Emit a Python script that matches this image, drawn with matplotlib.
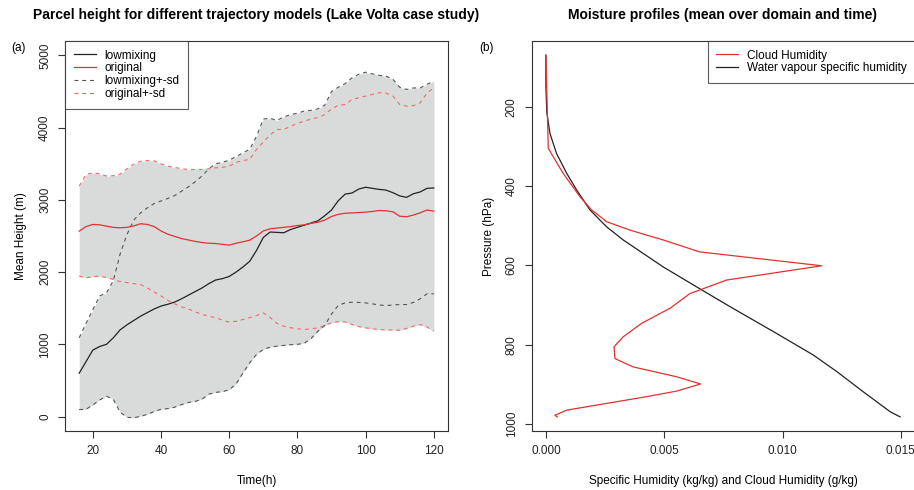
import matplotlib
matplotlib.use("Agg")
import matplotlib.pyplot as plt
import numpy as np

plt.rcParams['font.family'] = ['Liberation Sans', 'DejaVu Sans']

# ---- panel (a): parcel height ----
hours = list(range(16, 121, 2))

lowmixing = [600, 760, 920, 970, 1000, 1090, 1200, 1270, 1330, 1390, 1440, 1490, 1530, 1555,
             1585, 1630, 1680, 1730, 1780, 1840, 1890, 1910, 1940, 2000, 2070, 2150, 2300, 2480,
             2555, 2550, 2545, 2590, 2620, 2650, 2680, 2710, 2780, 2860, 2990, 3080, 3095, 3150,
             3175, 3160, 3145, 3135, 3100, 3055, 3035, 3085, 3110, 3160, 3165]
original = [2567, 2630, 2660, 2655, 2636, 2620, 2613, 2620, 2640, 2670, 2660, 2630, 2570, 2525,
            2495, 2465, 2445, 2425, 2410, 2400, 2396, 2385, 2373, 2400, 2420, 2442, 2500, 2570,
            2600, 2610, 2620, 2630, 2645, 2655, 2675, 2690, 2720, 2770, 2800, 2815, 2820, 2825,
            2830, 2840, 2853, 2850, 2835, 2774, 2766, 2790, 2821, 2860, 2844]
lowmixing_up = [1090, 1290, 1480, 1670, 1713, 1880, 2250, 2520, 2720, 2820, 2890, 2950, 2985, 3020,
                3060, 3120, 3180, 3250, 3330, 3430, 3500, 3520, 3550, 3600, 3650, 3700, 3880, 4120,
                4130, 4100, 4150, 4180, 4200, 4230, 4240, 4260, 4310, 4500, 4560, 4610, 4690, 4740,
                4768, 4745, 4725, 4713, 4670, 4560, 4530, 4550, 4550, 4600, 4644]
lowmixing_lo = [97, 100, 160, 230, 281, 240, 60, -10, -18, 5, 30, 70, 100, 110,
                130, 165, 195, 210, 240, 310, 335, 345, 370, 450, 600, 744, 860, 930,
                960, 975, 985, 995, 1000, 1015, 1080, 1180, 1260, 1420, 1540, 1575, 1583, 1580,
                1574, 1560, 1545, 1537, 1545, 1551, 1551, 1580, 1630, 1700, 1700]
original_up = [3190, 3350, 3375, 3360, 3330, 3335, 3355, 3430, 3495, 3535, 3546, 3540, 3500, 3467,
               3450, 3430, 3421, 3421, 3421, 3430, 3444, 3450, 3467, 3520, 3545, 3560, 3698, 3800,
               3900, 3975, 3975, 4020, 4060, 4090, 4120, 4140, 4180, 4260, 4310, 4320, 4390, 4415,
               4437, 4460, 4483, 4478, 4440, 4321, 4298, 4305, 4344, 4480, 4552]
original_lo = [1943, 1921, 1935, 1943, 1925, 1898, 1870, 1855, 1840, 1828, 1780, 1725, 1670, 1610,
               1560, 1520, 1490, 1450, 1415, 1390, 1370, 1335, 1306, 1320, 1343, 1370, 1400, 1436,
               1370, 1290, 1250, 1230, 1215, 1205, 1215, 1228, 1260, 1298, 1315, 1310, 1274, 1245,
               1228, 1215, 1205, 1200, 1198, 1195, 1220, 1251, 1274, 1240, 1181]

# ---- panel (b): moisture profiles ----
cloud_p = [70, 305, 368, 427, 460, 490, 511, 536, 566, 601, 637, 671, 708, 746, 780, 805,
           835, 856, 881, 899, 917, 931, 965, 978, 982]
cloud_q = [0.0, 0.0001, 0.00073, 0.00144, 0.00193, 0.00257, 0.00355, 0.00496, 0.0065, 0.01166,
           0.00764, 0.00609, 0.00525, 0.00405, 0.00327, 0.00288, 0.00292, 0.00369, 0.00553,
           0.00654, 0.00553, 0.00426, 0.00088, 0.00038, 0.00048]
vap_p = [70, 150, 215, 267, 318, 368, 410, 460, 503, 536, 604, 662, 704, 772, 826,
         868, 919, 969, 982]
vap_q = [0.0, 0.0, 0.00004, 0.00017, 0.00045, 0.00088, 0.0013, 0.00186, 0.00257,
         0.00327, 0.00496, 0.00659, 0.00778, 0.00976, 0.0113, 0.0123, 0.01342, 0.01455, 0.01497]

W, H = 914, 490
fig = plt.figure(figsize=(W / 100, H / 100), dpi=100)

def px_axes(x0, y0, x1, y1):
    return fig.add_axes([x0 / W, 1 - y1 / H, (x1 - x0) / W, (y1 - y0) / H])

edge = '#333333'
fs = 8.5

def style(ax):
    for s in ax.spines.values():
        s.set_color(edge)
        s.set_linewidth(0.8)
    ax.tick_params(direction='out', length=5, width=0.8, color=edge, labelsize=fs,
                   labelcolor='#222222', pad=5)
    for lab in ax.get_yticklabels():
        lab.set_rotation(90)
        lab.set_va('center')

grey_fill = '#d9dbdb'
red = '#e53030'

ax1 = px_axes(65, 41, 448, 431)
ax1.fill_between(hours, lowmixing_lo, lowmixing_up, color=grey_fill, lw=0, zorder=1)
ax1.fill_between(hours, original_lo, original_up, color=grey_fill, lw=0, zorder=1)
dash = (0, (3.5, 3.5))
ax1.plot(hours, lowmixing_up, color='#555555', lw=0.8, ls=dash, zorder=2)
ax1.plot(hours, lowmixing_lo, color='#555555', lw=0.8, ls=dash, zorder=2)
ax1.plot(hours, original_up, color='#ef6a6a', lw=0.8, ls=dash, zorder=2)
ax1.plot(hours, original_lo, color='#ef6a6a', lw=0.8, ls=dash, zorder=2)
ax1.plot(hours, lowmixing, color='#222222', lw=0.9, zorder=3, label='lowmixing')
ax1.plot(hours, original, color=red, lw=0.9, zorder=3, label='original')
# legend proxies
ax1.plot([], [], color='#555555', lw=0.8, ls=dash, label='lowmixing+-sd')
ax1.plot([], [], color='#ef6a6a', lw=0.8, ls=dash, label='original+-sd')
ax1.set_xlim(11.84, 124.16)
ax1.set_ylim(-200, 5200)
ax1.set_xticks([20, 40, 60, 80, 100, 120])
ax1.set_yticks([0, 1000, 2000, 3000, 4000, 5000])
style(ax1)
ax1.set_xlabel('Time(h)', fontsize=fs, labelpad=13)
ax1.set_ylabel('Mean Height (m)', fontsize=fs, labelpad=9)
leg = ax1.legend(loc='upper left', borderaxespad=0, fontsize=fs, fancybox=False,
                 edgecolor=edge, handlelength=1.9, handletextpad=0.7, labelspacing=0.08,
                 borderpad=0.72)
leg.get_frame().set_linewidth(0.8)

ax2 = px_axes(531.7, 41, 915, 431)
ax2.plot(vap_q, vap_p, color='#222222', lw=0.9, zorder=2)
ax2.plot(cloud_q, cloud_p, color=red, lw=0.9, zorder=3)
ax2.plot([], [], color=red, lw=0.9, label='Cloud Humidity')
ax2.plot([], [], color='#222222', lw=0.9, label='Water vapour specific humidity')
ax2.set_xlim(-0.0006, 0.0156)
ax2.set_ylim(1017.6, 34.3)
ax2.set_xticks([0.0, 0.005, 0.010, 0.015])
ax2.set_xticklabels(['0.000', '0.005', '0.010', '0.015'])
ax2.set_yticks([200, 400, 600, 800, 1000])
style(ax2)
ax2.set_xlabel('Specific Humidity (kg/kg) and Cloud Humidity (g/kg)', fontsize=fs, labelpad=13)
ax2.set_ylabel('Pressure (hPa)', fontsize=fs, labelpad=8)
leg2 = ax2.legend(loc='upper right', borderaxespad=0, fontsize=fs, fancybox=False,
                  edgecolor=edge, handlelength=1.9, handletextpad=0.7, labelspacing=0.08,
                  borderpad=0.72)
leg2.get_frame().set_linewidth(0.8)

fig.text(256.5 / W, 1 - 15 / H, 'Parcel height for different trajectory models (Lake Volta case study)',
         ha='center', va='center', fontsize=10, fontweight='bold')
fig.text(723 / W, 1 - 15 / H, 'Moisture profiles (mean over domain and time)',
         ha='center', va='center', fontsize=10, fontweight='bold')
fig.text(18 / W, 1 - 48 / H, '(a)', ha='center', va='center', fontsize=fs)
fig.text(487 / W, 1 - 48 / H, '(b)', ha='center', va='center', fontsize=fs)

fig.savefig('out.png', dpi=100)
